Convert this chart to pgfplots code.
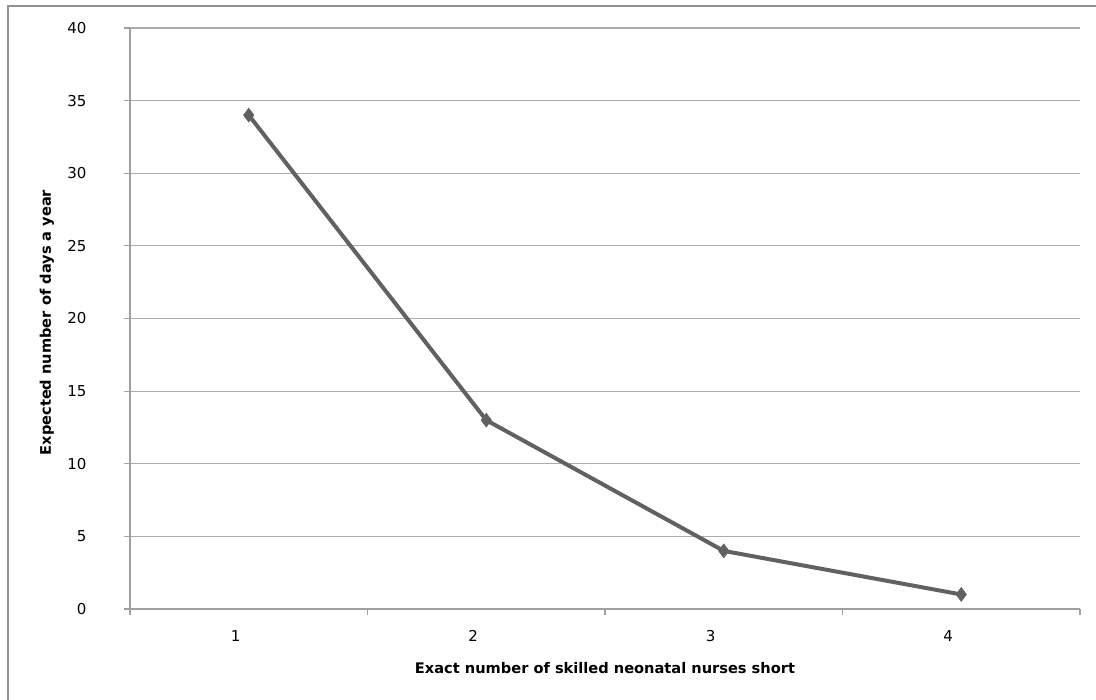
\documentclass[border=0pt]{standalone}
\usepackage{pgfplots}
\pgfplotsset{compat=1.18}
\usepackage{fontspec}
\setmainfont{DejaVu Sans}
\begin{document}
\begin{tikzpicture}[x=1pt,y=1pt]
\path[use as bounding box] (0,0) rectangle (1096,700);
\draw[gray!85, line width=1.5pt] (8,-5) -- (8,694) -- (1100,694);
\begin{axis}[
  at={(130pt,91pt)}, anchor=south west,
  scale only axis, width=950pt, height=581pt,
  xmin=0.5, xmax=4.5, ymin=0, ymax=40,
  xtick={1,2,3,4}, xticklabels={1,2,3,4},
  minor xtick={0.5,1.5,2.5,3.5,4.5},
  ytick={0,5,...,40},
  axis x line*=bottom, axis y line*=left,
  axis line style={draw=gray!75, line width=1.2pt, -},
  ymajorgrids, major grid style={draw=gray!65, line width=1.2pt},
  major x tick style={draw=none},
  minor x tick style={draw=gray!75, line width=1.2pt},
  major y tick style={draw=gray!75, line width=1.2pt},
  tick align=outside, major tick length=6pt, minor tick length=6pt,
  tick label style={font=\fontsize{15}{17}\selectfont},
  yticklabel style={xshift=-34pt},
  xticklabel style={xshift=-13pt, yshift=-12pt},
  /pgf/number format/assume math mode=true,
  xlabel={Exact number of skilled neonatal nurses short},
  ylabel={Expected number of days a year},
  label style={font=\bfseries\fontsize{14.6}{17}\selectfont},
  xlabel style={at={(axis description cs:0.5,0)}, anchor=center, yshift=-59pt},
  ylabel style={at={(axis description cs:-0.0874,0.493)}, anchor=center},
  clip=false,
]
\addplot[color=black!62, line width=4pt, mark=diamond*, mark size=7pt, mark options={line width=0.5pt}] coordinates {(1,34) (2,13) (3,4) (4,1)};
\end{axis}
\end{tikzpicture}
\end{document}
